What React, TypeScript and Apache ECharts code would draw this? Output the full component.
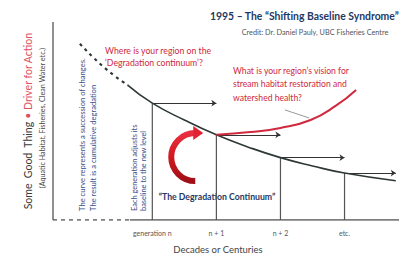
import React, { useEffect, useRef } from 'react';
import * as echarts from 'echarts';

// Conceptual axis: generations along x, "some good thing" level along y (0-100)
const generations = [1, 2, 3, 4];
const tickLabels = ['generation n', 'n + 1', 'n + 2', 'etc.'];
const baselineDashed = [[-0.13, 89], [0.25, 77], [0.62, 68]];
const baselineSolid = [[0.62, 68], [1, 59], [1.5, 50.5], [2, 43], [2.5, 36.8], [3, 31.5], [3.5, 27.3], [4, 23.7], [4.8, 19.8]];
const baselineLevels = [59, 43, 31.5, 23.7];
const arrowTargets = [2, 3, 4, 4.8];
const visionCurve = [[2, 43], [2.53, 44.4], [3, 46.5], [3.47, 50.5], [3.86, 57.6], [4.18, 65.7]];
const pointerLine = [[3.07, 55.6], [3.45, 51.5]];
const cycleCenter = [1.67, 31.8];
const xMin = -0.55;
const xMax = 4.85;
const axisBreak = 0.65;

const FONT = 'Lato, "Open Sans", sans-serif';

export default function App() {
  const ref = useRef<HTMLDivElement>(null);
  useEffect(() => {
    if (!ref.current) return;
    const chart = echarts.init(ref.current, undefined, { renderer: 'svg' });
    const verticalSeries = generations.map((g, i) => ({
      type: 'line',
      data: [[g, 0], [g, baselineLevels[i]]],
      symbol: 'none',
      lineStyle: { color: '#555', width: 1.2 },
      silent: true,
    }));
    const option: any = {
      animation: false,
      grid: { left: 53, right: 6, top: 22, bottom: 36 },
      xAxis: {
        type: 'value',
        min: xMin,
        max: xMax,
        axisLine: { show: false },
        axisTick: { show: false },
        splitLine: { show: false },
        axisLabel: {
          customValues: generations,
          formatter: (v: number) => {
            const i = generations.indexOf(v);
            return i >= 0 ? tickLabels[i] : '';
          },
          fontSize: 7,
          color: '#555',
          fontFamily: FONT,
          margin: 9,
        },
      },
      yAxis: { type: 'value', min: 0, max: 100, show: false },
      series: [
        {
          type: 'line',
          data: [[xMin, 0], [xMin, 100]],
          symbol: 'none',
          lineStyle: { color: '#555', width: 1.3 },
        },
        {
          type: 'line',
          data: [[xMin, 0], [axisBreak, 0]],
          symbol: 'none',
          lineStyle: { color: '#555', width: 1.3, type: [4, 4] },
        },
        {
          type: 'line',
          data: [[axisBreak, 0], [xMax, 0]],
          symbol: 'none',
          lineStyle: { color: '#555', width: 1.3 },
        },
        ...verticalSeries,
        {
          type: 'line',
          data: baselineDashed,
          smooth: true,
          symbol: 'none',
          lineStyle: { color: '#2f3838', width: 2.2, type: [3, 4] },
        },
        {
          type: 'line',
          data: baselineSolid,
          smooth: true,
          symbol: 'none',
          lineStyle: { color: '#2f3838', width: 1.6 },
        },
        {
          type: 'lines',
          coordinateSystem: 'cartesian2d',
          symbol: ['none', 'arrow'],
          symbolSize: 5,
          lineStyle: { color: '#333', width: 1.2, opacity: 1 },
          data: generations.map((g, i) => ({
            coords: [[g, baselineLevels[i]], [arrowTargets[i], baselineLevels[i]]],
          })),
        },
        {
          type: 'line',
          data: visionCurve,
          smooth: true,
          symbol: 'none',
          lineStyle: { color: '#d0283c', width: 2 },
        },
        {
          type: 'lines',
          coordinateSystem: 'cartesian2d',
          symbol: ['none', 'none'],
          lineStyle: { color: '#999', width: 1, opacity: 1 },
          data: [{ coords: pointerLine }],
        },
        {
          type: 'custom',
          data: [cycleCenter],
          renderItem: (_params: any, api: any) => {
            const c = api.coord([api.value(0), api.value(1)]);
            const r = 24;
            return {
              type: 'group',
              children: [
                {
                  type: 'arc',
                  shape: { cx: c[0], cy: c[1], r, startAngle: Math.PI / 2, endAngle: Math.PI * 1.5, clockwise: true },
                  style: {
                    fill: 'none',
                    lineWidth: 6,
                    stroke: new echarts.graphic.LinearGradient(0, 0, 0, 1, [
                      { offset: 0, color: '#e83040' },
                      { offset: 0.5, color: '#d01820' },
                      { offset: 1, color: '#a01018' },
                    ]),
                  },
                },
                {
                  type: 'polygon',
                  shape: { points: [[c[0] - 2, c[1] - r - 7], [c[0] + 8, c[1] - r], [c[0] - 2, c[1] - r + 7]] },
                  style: { fill: '#e02434' },
                },
              ],
            };
          },
        },
      ],
      graphic: [
        {
          type: 'text',
          x: 210,
          y: 16,
          style: {
            text: '1995 – The “Shifting Baseline Syndrome”',
            fill: '#1f3864',
            font: `bold 10.4px ${FONT}`,
            textAlign: 'left',
            textVerticalAlign: 'middle',
          },
        },
        {
          type: 'text',
          x: 315,
          y: 32,
          style: {
            text: 'Credit: Dr. Daniel Pauly, UBC Fisheries Centre',
            fill: '#555',
            font: `7.3px ${FONT}`,
            textAlign: 'center',
            textVerticalAlign: 'middle',
          },
        },
        {
          type: 'text',
          x: 28,
          y: 121,
          rotation: Math.PI / 2,
          style: {
            text: '{a|Some  Good  Thing} {b|• Driver for Action}',
            font: `10.5px ${FONT}`,
            textAlign: 'center',
            textVerticalAlign: 'middle',
            rich: {
              a: { fill: '#3a3a3a', font: `10.5px ${FONT}` },
              b: { fill: '#e0505e', font: `10.5px ${FONT}` },
            },
          },
        },
        {
          type: 'text',
          x: 42,
          y: 118,
          rotation: Math.PI / 2,
          style: {
            text: '(Aquatic Habitat, Fisheries, Clean Water etc.)',
            fill: '#444',
            font: `7.2px ${FONT}`,
            textAlign: 'center',
            textVerticalAlign: 'middle',
          },
        },
        {
          type: 'text',
          x: 105,
          y: 44.5,
          style: {
            text: 'Where is your region on the\n‘Degradation continuum’?',
            fill: '#d0283c',
            font: `8.7px ${FONT}`,
            lineHeight: 12,
            textAlign: 'left',
            textVerticalAlign: 'top',
          },
        },
        {
          type: 'text',
          x: 233,
          y: 64,
          style: {
            text: 'What is your region’s vision for\nstream habitat restoration and\nwatershed health?',
            fill: '#d0283c',
            font: `8.6px ${FONT}`,
            lineHeight: 13.5,
            textAlign: 'left',
            textVerticalAlign: 'top',
          },
        },
        {
          type: 'text',
          x: 217,
          y: 196,
          style: {
            text: '“The Degradation Continuum”',
            fill: '#1f3864',
            font: `bold 8.7px ${FONT}`,
            textAlign: 'center',
            textVerticalAlign: 'middle',
          },
        },
        {
          type: 'text',
          x: 87,
          y: 211,
          rotation: Math.PI / 2,
          style: {
            text: 'The curve represents a succession of changes.\nThe result is a cumulative degradation',
            fill: '#3a4f8a',
            font: `7.6px ${FONT}`,
            lineHeight: 11,
            textAlign: 'left',
            textVerticalAlign: 'middle',
          },
        },
        {
          type: 'text',
          x: 139,
          y: 211,
          rotation: Math.PI / 2,
          style: {
            text: 'Each generation adjusts its\nbaseline to the new level',
            fill: '#3a4f8a',
            font: `7.4px ${FONT}`,
            lineHeight: 8.5,
            textAlign: 'left',
            textVerticalAlign: 'middle',
          },
        },
        {
          type: 'text',
          x: 218,
          y: 249,
          style: {
            text: 'Decades or Centuries',
            fill: '#444',
            font: `9.5px ${FONT}`,
            textAlign: 'center',
            textVerticalAlign: 'middle',
          },
        },
      ],
    };
    chart.setOption(option);
    return () => chart.dispose();
  }, []);
  return (
    <div
      ref={ref}
      style={{ position: 'fixed', left: 0, top: 0, width: 405, height: 256, background: '#fff' }}
    />
  );
}
